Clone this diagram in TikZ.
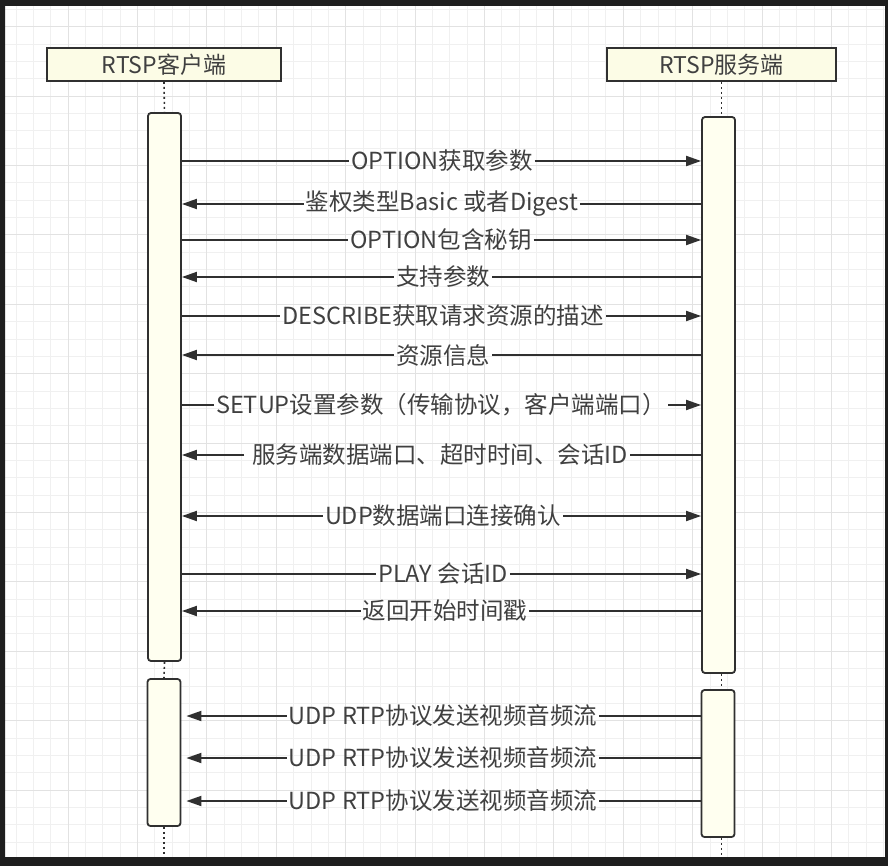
\documentclass[tikz,border=0pt]{standalone}
\usepackage{fontspec}
\setmainfont{Noto Sans CJK SC}
\usetikzlibrary{positioning,arrows.meta}
\definecolor{frame}{RGB}{30,30,30}
\definecolor{gridline}{RGB}{240,240,240}
\definecolor{gridbold}{RGB}{226,226,226}
\definecolor{headfill}{RGB}{252,252,230}
\definecolor{actfill}{RGB}{255,255,240}
\definecolor{ink}{RGB}{48,48,48}
\definecolor{label}{RGB}{64,64,64}

\begin{document}
\begin{tikzpicture}[
  x=1pt, y=-1pt,
  head/.style={draw=ink, line width=1.8pt, fill=headfill, minimum height=33pt, text=label, font=\fontsize{23}{26}\selectfont},
  act/.style={draw=ink, line width=1.8pt, fill=actfill, rounded corners=3pt, minimum width=33pt},
  msg/.style={text=label, font=\fontsize{23.5}{26}\selectfont, inner sep=2pt},
  arrow/.style={-{Triangle[length=15pt,width=10pt]}, line width=1.8pt, draw=ink},
  life/.style={draw=ink, line width=1.6pt, dash pattern=on 2pt off 3pt}
]
\useasboundingbox (0,0) rectangle (888,866);
% background and grid
\fill[white] (5,6) rectangle (885,857);
\begin{scope}[shift={(68,26.6)}]
  \draw[gridline, line width=0.8pt, step=17.35pt] (-63,-20.6) grid (817,830.4);
  \draw[gridbold, line width=0.9pt, step=69.4pt] (-63,-20.6) grid (817,830.4);
\end{scope}

% participants
\node[head, minimum width=234pt] (cli) at (164,64.5) {RTSP客户端};
\node[head, minimum width=229pt] (srv) at (721.5,64.5) {RTSP服务端};

% activation bars
\node[act, minimum height=548pt] (c1) at (164.5,387) {};
\node[act, minimum height=147pt] (c2) at (164,752.5) {};
\node[act, minimum height=556pt] (s1) at (718.5,395) {};
\node[act, minimum height=147pt] (s2) at (718,763.5) {};

% lifelines
\coordinate (cbottom) at (164,862);
\coordinate (sbottom) at (721.5,862);
\draw[life] (cli.south) -- (c1.north);
\draw[life] (c1.south) -- (c2.north);
\draw[life] (c2.south) -- (cbottom);
\draw[life] (srv.south) -- (srv.south |- s1.north);
\draw[life] (srv.south |- s1.south) -- (srv.south |- s2.north);
\draw[life] (srv.south |- s2.south) -- (sbottom);

% messages
\node[msg] (m1) at (442,161) {OPTION获取参数};
\node[msg] (m2) at (442,204) {鉴权类型Basic 或者Digest};
\node[msg] (m3) at (441,240) {OPTION包含秘钥};
\node[msg] (m4) at (443,277) {支持参数};
\node[msg] (m5) at (443,316) {DESCRIBE获取请求资源的描述};
\node[msg] (m6) at (443,355) {资源信息};
\node[msg] (m7) at (441,405) {SETUP设置参数（传输协议，客户端端口）};
\node[msg] (m8) at (440,455) {服务端数据端口、超时时间、会话ID};
\node[msg] (m9) at (443,516) {UDP数据端口连接确认};
\node[msg] (m10) at (443,574) {PLAY 会话ID};
\node[msg] (m11) at (445,611) {返回开始时间戳};
\node[msg] (m12) at (443,716) {UDP RTP协议发送视频音频流};
\node[msg] (m13) at (443,758) {UDP RTP协议发送视频音频流};
\node[msg] (m14) at (443,801) {UDP RTP协议发送视频音频流};

\draw[arrow] (c1.east |- m1) -- (m1) -- (s1.west |- m1);
\draw[arrow] (s1.west |- m2) -- (m2) -- (c1.east |- m2);
\draw[arrow] (c1.east |- m3) -- (m3) -- (s1.west |- m3);
\draw[arrow] (s1.west |- m4) -- (m4) -- (c1.east |- m4);
\draw[arrow] (c1.east |- m5) -- (m5) -- (s1.west |- m5);
\draw[arrow] (s1.west |- m6) -- (m6) -- (c1.east |- m6);
\draw[arrow] (c1.east |- m7) -- (m7) -- (s1.west |- m7);
\draw[arrow, shorten <=6pt] (s1.west |- m8) -- (m8) -- (c1.east |- m8);
\draw[arrow] (m9) -- (c1.east |- m9);
\draw[arrow] (m9) -- (s1.west |- m9);
\draw[arrow] (c1.east |- m10) -- (m10) -- (s1.west |- m10);
\draw[arrow] (s1.west |- m11) -- (m11) -- (c1.east |- m11);
\draw[arrow, shorten >=5pt] (s2.west |- m12) -- (m12) -- (c2.east |- m12);
\draw[arrow, shorten >=5pt] (s2.west |- m13) -- (m13) -- (c2.east |- m13);
\draw[arrow, shorten >=5pt] (s2.west |- m14) -- (m14) -- (c2.east |- m14);

% screen frame
\fill[frame, even odd rule] (0,0) rectangle (888,866) (5,6) rectangle (885,857);
\end{tikzpicture}
\end{document}
